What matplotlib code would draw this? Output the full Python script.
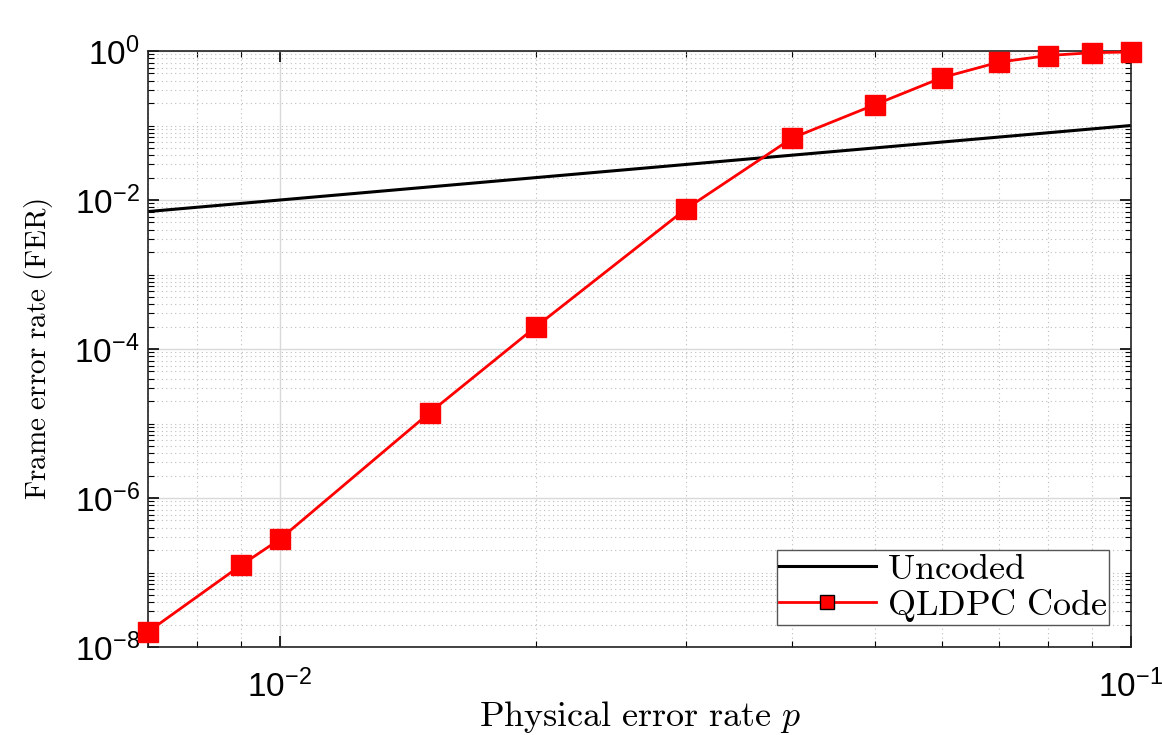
import matplotlib.pyplot as plt
from matplotlib.ticker import LogLocator, NullFormatter

plt.rcParams['mathtext.fontset'] = 'cm'
plt.rcParams['font.family'] = 'Liberation Sans'

# physical error rate p
p_coded = [0.007, 0.009, 0.01, 0.015, 0.02, 0.03, 0.04, 0.05, 0.06, 0.07, 0.08, 0.09, 0.1]
fer_coded = [1.6e-8, 1.25e-7, 2.8e-7, 1.4e-5, 2.0e-4, 7.6e-3, 6.8e-2, 0.19, 0.44, 0.71, 0.87, 0.95, 0.97]
p_uncoded = [0.007, 0.1]
fer_uncoded = [0.007, 0.1]

fig = plt.figure(figsize=(11.62, 7.35), dpi=100)
ax = fig.add_axes([0.1274, 0.1197, 0.8459, 0.8109])

ax.plot(p_uncoded, fer_uncoded, color='black', lw=2.2, label='Uncoded')
ax.plot(p_coded, fer_coded, color='red', lw=2, marker='s', ms=14,
        mfc='red', mec='red', label='QLDPC Code', clip_on=False, zorder=5)

ax.set_xscale('log'); ax.set_yscale('log')
ax.set_xlim(0.007, 0.1); ax.set_ylim(1e-8, 1)
ax.set_yticks([1e-8, 1e-6, 1e-4, 1e-2, 1])
ax.yaxis.set_minor_locator(LogLocator(base=10, subs=range(1, 10), numticks=20))
ax.yaxis.set_minor_formatter(NullFormatter())
ax.xaxis.set_minor_formatter(NullFormatter())

ax.grid(True, which='major', color='#d9d9d9', lw=1, ls='-')
ax.grid(True, which='minor', color='#bdbdbd', lw=0.8, ls=(0, (1, 3)))
ax.set_axisbelow(True)

ax.tick_params(which='both', direction='in', top=True, right=True, labelsize=24)
ax.tick_params(which='major', length=8, width=1.2)
ax.tick_params(which='minor', length=4, width=0.8)
ax.tick_params(axis='x', pad=16)
ax.tick_params(axis='y', pad=6)
for s in ax.spines.values():
    s.set_linewidth(1.2); s.set_color('#222222')

ax.set_xlabel(r'$\mathrm{Physical\ error\ rate}\ p$', fontsize=26)
ax.xaxis.set_label_coords(0.5, -0.088)
ax.set_ylabel(r'$\mathrm{Frame\ error\ rate\ (FER)}$', fontsize=21)
ax.yaxis.set_label_coords(-0.095, 0.5)

leg = ax.legend(loc='lower right', framealpha=1, fancybox=False,
                edgecolor='#555555', handlelength=2.7, borderaxespad=0.6,
                borderpad=0.05, labelspacing=0.0, handletextpad=0.3,
                prop={'size': 26})
leg.get_lines()[1].set_markeredgecolor('black')
leg.get_lines()[1].set_markersize(10)
for t in leg.get_texts():
    t.set_text(r'$\mathrm{' + t.get_text().replace(' ', r'\ ') + '}$')

fig.savefig('out.png', dpi=100)
